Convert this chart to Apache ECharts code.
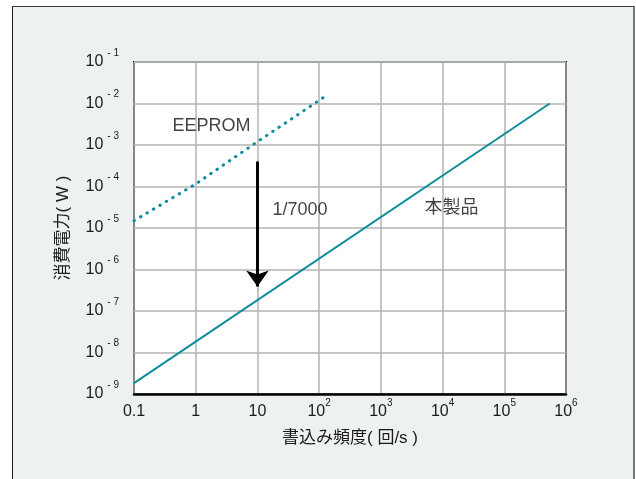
<!DOCTYPE html>
<html>
<head>
<meta charset="utf-8">
<script src="https://cdn.jsdelivr.net/npm/echarts@6/dist/echarts.min.js"></script>
<style>
  html, body { margin: 0; padding: 0; background: #ffffff; }
  #panel {
    position: absolute; left: 12px; top: 6px; width: 620px; height: 480px;
    background: #edf1f2;
    border-left: 1px solid #1a1a1a; border-top: 1px solid #3a3a3a; border-right: 2px solid #777;
  }
  #chart { position: absolute; left: 0; top: 0; width: 636px; height: 479px; }
</style>
</head>
<body>
<div id="panel"></div>
<div id="chart"></div>
<script>
// Write frequency (times/s) vs. power consumption (W), log-log
const xTickLabels = { '-1': ['0.1', ''], '0': ['1', ''], '1': ['10', ''], '2': ['10', '2'], '3': ['10', '3'], '4': ['10', '4'], '5': ['10', '5'], '6': ['10', '6'] };
const yTickLabels = { '-1': '- 1', '-2': '- 2', '-3': '- 3', '-4': '- 4', '-5': '- 5', '-6': '- 6', '-7': '- 7', '-8': '- 8', '-9': '- 9' };

const productName = '本製品';
const productPoints = [[0.1, 1.83e-9], [5.46e5, 1e-2]];

const eepromName = 'EEPROM';
const eepromPoints = [[0.1, 1.5e-5], [1, 1.15e-4], [10, 1.2e-3], [135, 1.6e-2]];

// reduction arrow at 10 times/s
const arrowFrom = [10, 4e-4];
const arrowTo = [10, 3.9e-7];

const notes = [
  { text: 'EEPROM', x: 1.8, y: 2.9e-3 },
  { text: '1/7000', x: 49, y: 2.7e-5 },
  { text: '本製品', x: 1.4e4, y: 3.05e-5 }
];

const FONT = '"Liberation Sans", Arial, "Noto Sans CJK JP", sans-serif';
const TEAL = '#0d8d9b';

const chart = echarts.init(document.getElementById('chart'), null, { renderer: 'canvas' });

function exp10(v) { return String(Math.round(Math.log10(v))); }

chart.setOption({
  backgroundColor: 'transparent',
  animation: false,
  textStyle: { fontFamily: FONT },
  grid: {
    left: 134, right: 70, top: 62, bottom: 85,
    show: true, backgroundColor: '#ffffff', borderColor: '#000000', borderWidth: 2
  },
  xAxis: {
    type: 'log', logBase: 10, min: 0.1, max: 1e6, splitNumber: 7,
    name: '書込み頻度( 回/s )', nameLocation: 'middle', nameGap: 36,
    nameTextStyle: { fontSize: 17, color: '#1a1a1a', fontFamily: FONT },
    axisLine: { show: true, lineStyle: { color: '#000', width: 2.5 } },
    axisTick: { show: false },
    splitLine: { show: true, lineStyle: { color: '#b3b3b3', width: 1.5 } },
    axisLabel: {
      margin: 4,
      formatter: function (v) {
        const t = xTickLabels[exp10(v)];
        return t[1] ? '{b|' + t[0] + '}{s|' + t[1] + '}' : '{b|' + t[0] + '}';
      },
      rich: {
        b: { fontSize: 16, lineHeight: 28, color: '#1a1a1a', fontFamily: FONT },
        s: { fontSize: 10, lineHeight: 12, verticalAlign: 'top', color: '#1a1a1a', fontFamily: FONT }
      }
    }
  },
  yAxis: {
    type: 'log', logBase: 10, min: 1e-9, max: 1e-1, splitNumber: 8,
    name: '消費電力( W )', nameLocation: 'middle', nameGap: 62,
    nameTextStyle: { fontSize: 17, color: '#1a1a1a', fontFamily: FONT },
    axisLine: { show: false },
    axisTick: { show: false },
    splitLine: { show: true, lineStyle: { color: '#b3b3b3', width: 1.5 } },
    axisLabel: {
      margin: 15,
      formatter: function (v) {
        return '{b|10}{s|' + yTickLabels[exp10(v)] + '}';
      },
      rich: {
        b: { fontSize: 16, lineHeight: 28, color: '#1a1a1a', fontFamily: FONT, padding: [0, 4, 0, 0] },
        s: { fontSize: 10, lineHeight: 12, verticalAlign: 'top', color: '#1a1a1a', fontFamily: FONT }
      }
    }
  },
  series: [
    {
      name: productName, type: 'line', data: productPoints, symbol: 'none',
      lineStyle: { color: TEAL, width: 2 }, z: 3
    },
    {
      name: eepromName, type: 'line', data: eepromPoints, symbol: 'none',
      lineStyle: { color: TEAL, width: 3, type: [0.5, 7], cap: 'round' }, z: 3,
      markLine: {
        silent: true, symbol: ['none', 'arrow'], symbolSize: [17, 16],
        label: { show: false },
        lineStyle: { color: '#000', width: 3, type: 'solid' },
        data: [[{ coord: arrowFrom }, { coord: arrowTo }]]
      }
    },
    {
      type: 'scatter', symbolSize: 0, silent: true, z: 4,
      data: notes.map(n => ({ value: [n.x, n.y], name: n.text })),
      label: {
        show: true, position: 'inside', formatter: p => p.name,
        fontSize: 18, color: '#111', fontFamily: FONT
      }
    }
  ]
});
</script>
</body>
</html>
